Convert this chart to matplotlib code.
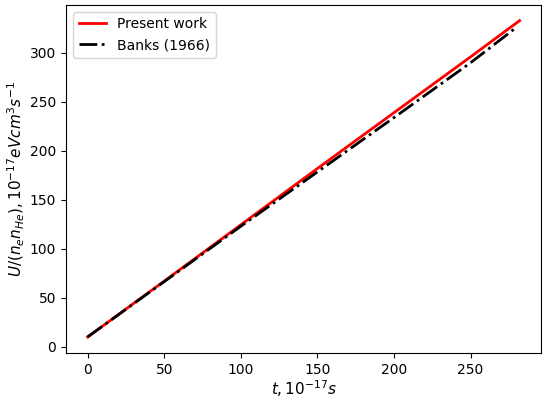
import numpy as np
from matplotlib import pyplot as plt

# values
t_present = [0, 50, 100, 150, 200, 250, 282]
u_present = [10, 67, 124.5, 182, 239, 296, 333]

t_banks = [0, 50, 100, 150, 200, 250, 279]
u_banks = [10, 66.5, 123, 178.5, 234, 290, 325]

fig = plt.figure(figsize=(5.5, 4), dpi=100)
ax = fig.add_axes([0.12, 0.118, 0.864, 0.87])

ax.plot(t_present, u_present, color='red', lw=2, label='Present work')
ax.plot(t_banks, u_banks, color='black', lw=2, linestyle='-.', label='Banks (1966)')

ax.set_xlabel(r'$t, 10^{-17}s$', fontsize=11, labelpad=1)
ax.set_ylabel(r'$U/(n_e n_{He}), 10^{-17} eV cm^3 s^{-1}$', fontsize=11, labelpad=2)
ax.legend(loc='upper left')

plt.savefig('out.png', dpi=100)
